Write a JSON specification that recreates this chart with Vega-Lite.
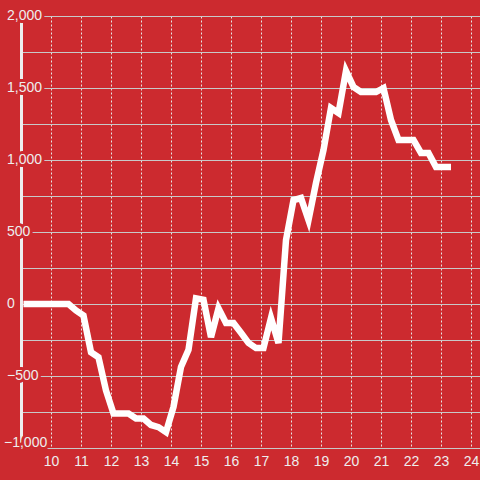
{
  "$schema": "https://vega.github.io/schema/vega-lite/v6.json",
  "width": 459,
  "height": 432,
  "autosize": {"type": "none"},
  "padding": {"left": 21, "top": 16, "right": 0, "bottom": 32},
  "background": "#cc2a2f",
  "config": {
    "view": {"stroke": null},
    "font": "Liberation Sans",
    "axis": {"labelFont": "Liberation Sans", "labelFontSize": 14, "labelColor": "#eeeeee", "labelOverlap": false, "labelFlush": false}
  },
  "resolve": {"axis": {"x": "independent", "y": "independent"}},
  "datasets": {
    "series": [
      {"t": 9.083, "v": 0}, {"t": 9.333, "v": 0}, {"t": 9.583, "v": 0}, {"t": 9.833, "v": 0},
      {"t": 10.083, "v": 0}, {"t": 10.333, "v": 0}, {"t": 10.583, "v": 0}, {"t": 10.833, "v": -45},
      {"t": 11.083, "v": -80}, {"t": 11.333, "v": -335}, {"t": 11.583, "v": -370}, {"t": 11.833, "v": -600},
      {"t": 12.083, "v": -760}, {"t": 12.333, "v": -760}, {"t": 12.583, "v": -760}, {"t": 12.833, "v": -795},
      {"t": 13.083, "v": -795}, {"t": 13.333, "v": -840}, {"t": 13.583, "v": -855}, {"t": 13.833, "v": -890},
      {"t": 14.083, "v": -715}, {"t": 14.333, "v": -437}, {"t": 14.583, "v": -319}, {"t": 14.833, "v": 40},
      {"t": 15.083, "v": 30}, {"t": 15.333, "v": -230}, {"t": 15.583, "v": -30}, {"t": 15.833, "v": -132},
      {"t": 16.083, "v": -132}, {"t": 16.333, "v": -200}, {"t": 16.583, "v": -270}, {"t": 16.833, "v": -306},
      {"t": 17.083, "v": -306}, {"t": 17.333, "v": -97}, {"t": 17.583, "v": -271}, {"t": 17.833, "v": 444},
      {"t": 18.083, "v": 722}, {"t": 18.333, "v": 736}, {"t": 18.583, "v": 583}, {"t": 18.833, "v": 840},
      {"t": 19.083, "v": 1069}, {"t": 19.333, "v": 1361}, {"t": 19.583, "v": 1326}, {"t": 19.833, "v": 1618},
      {"t": 20.083, "v": 1507}, {"t": 20.333, "v": 1472}, {"t": 20.583, "v": 1472}, {"t": 20.833, "v": 1472},
      {"t": 21.083, "v": 1500}, {"t": 21.333, "v": 1278}, {"t": 21.583, "v": 1139}, {"t": 21.833, "v": 1139},
      {"t": 22.083, "v": 1139}, {"t": 22.333, "v": 1049}, {"t": 22.583, "v": 1049}, {"t": 22.833, "v": 951},
      {"t": 23.083, "v": 951}, {"t": 23.333, "v": 951}
    ],
    "labels": [
      {"v": 2000}, {"v": 1500}, {"v": 1000}, {"v": 500}, {"v": 0}, {"v": -500}, {"v": -1000}
    ]
  },
  "layer": [
    {
      "data": {"name": "series"},
      "mark": {"type": "line", "opacity": 0},
      "encoding": {
        "x": {
          "field": "t", "type": "quantitative",
          "scale": {"domain": [9, 24.3], "nice": false, "zero": false},
          "axis": {
            "title": null, "values": [10, 11, 12, 13, 14, 15, 16, 17, 18, 19, 20, 21, 22, 23, 24],
            "grid": true, "gridColor": "#e6e6e6", "gridDash": [2, 2], "gridWidth": 1,
            "domain": false, "ticks": false, "labelPadding": 6, "labelBaseline": "top",
            "labelFlush": false, "labelOverlap": false
          }
        },
        "y": {
          "field": "v", "type": "quantitative",
          "scale": {"domain": [-1000, 2000], "nice": false},
          "axis": {
            "title": null,
            "values": [-1000, -750, -500, -250, 0, 250, 500, 750, 1000, 1250, 1500, 1750, 2000],
            "grid": true, "gridColor": "#c8c8c8", "gridWidth": 1,
            "labels": false, "ticks": false,
            "domain": true, "domainColor": "#eeeeee", "domainWidth": 3
          }
        }
      }
    },
    {
      "mark": {"type": "rule", "color": "#f0f0f0", "strokeWidth": 5},
      "encoding": {"y": {"datum": 0, "type": "quantitative", "axis": null}}
    },
    {
      "data": {"name": "labels"},
      "transform": [{"filter": "datum.v > -1000"}],
      "mark": {"type": "text", "align": "left", "baseline": "middle", "dx": -14, "fontSize": 14, "font": "Liberation Sans", "fill": "#cc2a2f", "stroke": "#cc2a2f", "strokeWidth": 6, "strokeJoin": "round"},
      "encoding": {
        "x": {"datum": 9, "type": "quantitative", "axis": null},
        "y": {"field": "v", "type": "quantitative", "axis": null},
        "text": {"field": "v", "type": "quantitative", "format": ","}
      }
    },
    {
      "data": {"name": "labels"},
      "transform": [{"filter": "datum.v == -1000"}],
      "mark": {"type": "text", "align": "left", "baseline": "bottom", "dx": -17, "dy": 2, "fontSize": 14, "font": "Liberation Sans", "fill": "#cc2a2f", "stroke": "#cc2a2f", "strokeWidth": 6, "strokeJoin": "round"},
      "encoding": {
        "x": {"datum": 9, "type": "quantitative", "axis": null},
        "y": {"field": "v", "type": "quantitative", "axis": null},
        "text": {"field": "v", "type": "quantitative", "format": ","}
      }
    },
    {
      "data": {"name": "labels"},
      "transform": [{"filter": "datum.v > -1000"}],
      "mark": {"type": "text", "align": "left", "baseline": "middle", "dx": -14, "fontSize": 14, "font": "Liberation Sans", "fill": "#eeeeee"},
      "encoding": {
        "x": {"datum": 9, "type": "quantitative", "axis": null},
        "y": {"field": "v", "type": "quantitative", "axis": null},
        "text": {"field": "v", "type": "quantitative", "format": ","}
      }
    },
    {
      "data": {"name": "labels"},
      "transform": [{"filter": "datum.v == -1000"}],
      "mark": {"type": "text", "align": "left", "baseline": "bottom", "dx": -17, "dy": 2, "fontSize": 14, "font": "Liberation Sans", "fill": "#eeeeee"},
      "encoding": {
        "x": {"datum": 9, "type": "quantitative", "axis": null},
        "y": {"field": "v", "type": "quantitative", "axis": null},
        "text": {"field": "v", "type": "quantitative", "format": ","}
      }
    },
    {
      "data": {"name": "series"},
      "mark": {"type": "line", "color": "#ffffff", "strokeWidth": 6.5},
      "encoding": {
        "x": {"field": "t", "type": "quantitative", "axis": null},
        "y": {"field": "v", "type": "quantitative", "axis": null}
      }
    }
  ]
}
